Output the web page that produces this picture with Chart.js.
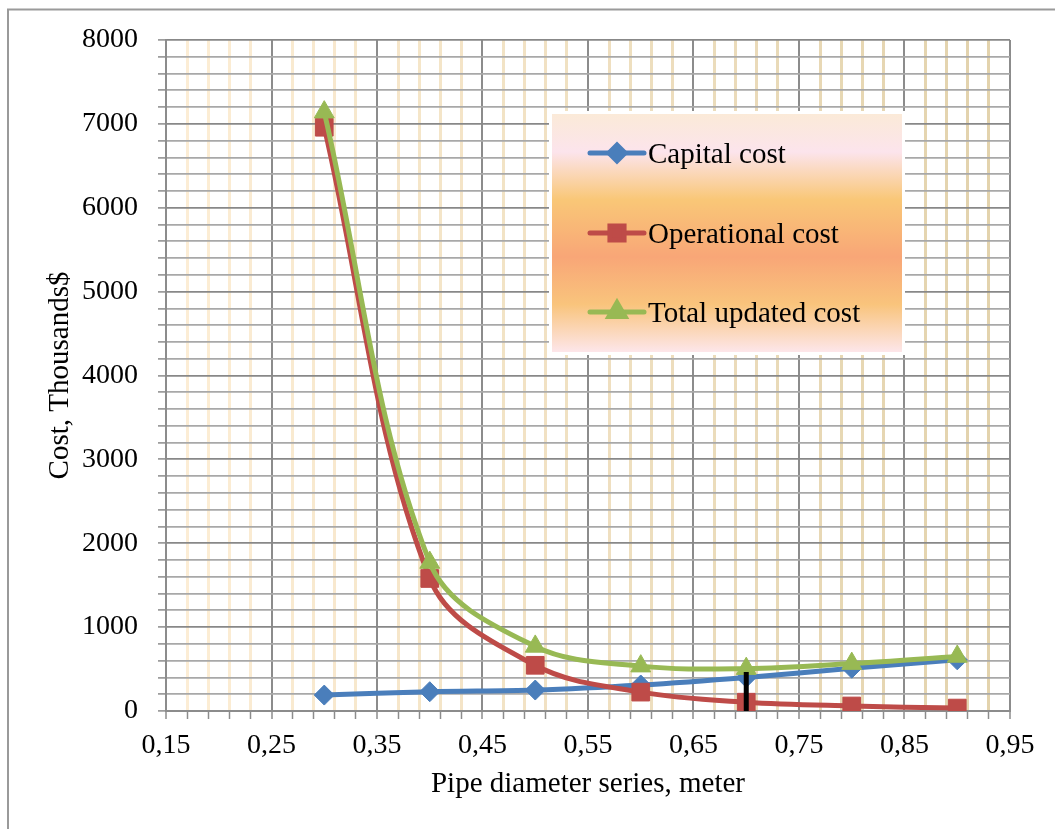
<!DOCTYPE html>
<html>
<head>
<meta charset="utf-8">
<script src="https://cdn.jsdelivr.net/npm/chart.js@4.4.0/dist/chart.umd.min.js"></script>
<style>
  html, body { margin: 0; padding: 0; background: #fff; }
  #wrap { position: relative; width: 1055px; height: 829px; }
</style>
</head>
<body>
<div id="wrap"><canvas id="costChart"></canvas></div>
<script>
// values
var diameters = [0.3, 0.4, 0.5, 0.6, 0.7, 0.8, 0.9];
var capitalCost = [190, 230, 250, 310, 400, 510, 610];
var operationalCost = [6960, 1580, 545, 225, 105, 60, 35];
var totalCost = [7140, 1770, 770, 535, 505, 565, 650];
var seriesNames = ['Capital cost', 'Operational cost', 'Total updated cost'];
var optimumX = 0.7;
var optimumTop = 465;
var xTickLabels = ['0,15', '0,25', '0,35', '0,45', '0,55', '0,65', '0,75', '0,85', '0,95'];
var yTickLabels = ['0', '1000', '2000', '3000', '4000', '5000', '6000', '7000', '8000'];

var FONT = 'Liberation Serif';
var colors = ['#4a7ebb', '#be4b48', '#98b954'];

function pts(ys) {
    return diameters.map(function (d, i) { return { x: d, y: ys[i] }; });
}

// minor vertical lines go from light cream on the left to tan on the right
function creamColor(v) {
    var t = Math.min(1, Math.max(0, (v - 0.15) / 0.8));
    var a = [253, 238, 214], b = [226, 210, 172];
    var c = a.map(function (x, k) { return Math.round(x + (b[k] - x) * t); });
    return 'rgb(' + c.join(',') + ')';
}

var framePlugin = {
    id: 'frame',
    beforeDraw: function (chart) {
        var ctx = chart.ctx;
        ctx.save();
        ctx.strokeStyle = '#9a9a9a';
        ctx.lineWidth = 2;
        ctx.beginPath();
        ctx.moveTo(8, 829);
        ctx.lineTo(8, 9.5);
        ctx.lineTo(1055, 9.5);
        ctx.stroke();
        ctx.restore();
    }
};

var legendBoxPlugin = {
    id: 'legendBox',
    afterDraw: function (chart) {
        var ctx = chart.ctx;
        var x0 = 552, y0 = 114, w = 350, h = 238;
        ctx.save();
        ctx.fillStyle = '#fff';
        ctx.fillRect(x0 - 3, y0 - 3, w + 6, h + 6);
        var g = ctx.createLinearGradient(0, y0, 0, y0 + h);
        g.addColorStop(0, '#fbead8');
        g.addColorStop(0.16, '#fce4ec');
        g.addColorStop(0.36, '#f9c777');
        g.addColorStop(0.6, '#f8a677');
        g.addColorStop(0.8, '#f9c47c');
        g.addColorStop(1, '#fde6ea');
        ctx.fillStyle = g;
        ctx.fillRect(x0, y0, w, h);

        var rows = [153, 233, 312];
        for (var i = 0; i < 3; i++) {
            var ds = chart.data.datasets[i];
            var y = rows[i];
            ctx.strokeStyle = ds.borderColor;
            ctx.lineWidth = 5;
            ctx.lineCap = 'round';
            ctx.beginPath();
            ctx.moveTo(590, y);
            ctx.lineTo(644, y);
            ctx.stroke();
            ctx.fillStyle = ds.borderColor;
            ctx.strokeStyle = ds.borderColor;
            Chart.helpers.drawPoint(ctx, {
                pointStyle: ds.pointStyle, radius: ds.pointRadius * 0.8,
                rotation: 0, borderWidth: 1
            }, 617, y);
            ctx.fillStyle = '#000';
            ctx.font = '29px "' + FONT + '"';
            ctx.textBaseline = 'alphabetic';
            ctx.textAlign = 'left';
            ctx.fillText(ds.label, 648, y + 10);
        }
        ctx.restore();
    }
};

var ctx = document.getElementById('costChart').getContext('2d');
var costChart = new Chart(ctx, {
    type: 'line',
    data: {
        datasets: [{
            label: seriesNames[0],
            data: pts(capitalCost),
            borderColor: colors[0],
            backgroundColor: colors[0],
            borderWidth: 5,
            pointStyle: 'rectRot',
            pointRadius: 10,
            pointBorderWidth: 1,
            tension: 0.35,
            order: 3
        }, {
            label: seriesNames[1],
            data: pts(operationalCost),
            borderColor: colors[1],
            backgroundColor: colors[1],
            borderWidth: 5,
            pointStyle: 'rect',
            pointRadius: 12.5,
            pointBorderWidth: 1,
            tension: 0.35,
            order: 2
        }, {
            label: seriesNames[2],
            data: pts(totalCost),
            borderColor: colors[2],
            backgroundColor: colors[2],
            borderWidth: 5,
            pointStyle: 'triangle',
            pointRadius: 11.5,
            pointBorderWidth: 1,
            tension: 0.35,
            order: 1
        }, {
            label: 'optimum',
            data: [{ x: optimumX, y: optimumTop }, { x: optimumX, y: 0 }],
            borderColor: '#000',
            borderWidth: 5,
            pointRadius: 0,
            tension: 0,
            order: 0
        }]
    },
    options: {
        responsive: true,
        maintainAspectRatio: false,
        animation: false,
        layout: { padding: { left: 30, right: 45, top: 40, bottom: 15 } },
        plugins: {
            legend: { display: false },
            tooltip: { enabled: false }
        },
        scales: {
            x: {
                type: 'linear',
                min: 0.15,
                max: 0.95,
                border: { color: '#8c8c8c', width: 2 },
                grid: {
                    color: function (c) {
                        return c.index % 5 === 0 ? '#8c8c8c' : creamColor(c.tick ? c.tick.value : 0.5);
                    },
                    lineWidth: function (c) { return c.index % 5 === 0 ? 2 : 3; },
                    tickColor: '#8c8c8c',
                    tickLength: 8,
                    tickWidth: 1.5
                },
                ticks: {
                    stepSize: 0.02,
                    autoSkip: false,
                    maxRotation: 0,
                    padding: 10,
                    color: '#000',
                    font: { family: FONT, size: 28, lineHeight: 1.2 },
                    callback: function (v, i) {
                        return i % 5 === 0 ? xTickLabels[i / 5] : '';
                    }
                },
                title: {
                    display: true,
                    text: 'Pipe diameter series, meter',
                    color: '#000',
                    font: { family: FONT, size: 29, lineHeight: 1.2 },
                    padding: { top: 0, bottom: 12 }
                },
                afterFit: function (s) { s.height = 829 - 711 - 15; }
            },
            y: {
                min: 0,
                max: 8000,
                border: { color: '#8c8c8c', width: 2 },
                grid: {
                    color: function (c) {
                        return c.tick && c.tick.value % 1000 === 0 ? '#888888' : '#a8a8a8';
                    },
                    lineWidth: 1.8,
                    tickColor: '#8c8c8c',
                    tickLength: 8,
                    tickWidth: 1.5
                },
                ticks: {
                    stepSize: 200,
                    autoSkip: false,
                    padding: 20,
                    color: '#000',
                    font: { family: FONT, size: 28, lineHeight: 1.2 },
                    callback: function (v) {
                        return v % 1000 === 0 ? yTickLabels[v / 1000] : '';
                    }
                },
                title: {
                    display: true,
                    text: 'Cost, Thousands$',
                    color: '#000',
                    font: { family: FONT, size: 29, lineHeight: 1.2 },
                    padding: { top: 13, bottom: 0 }
                },
                afterFit: function (s) { s.width = 166 - 30; }
            }
        }
    },
    plugins: [framePlugin, legendBoxPlugin]
});
</script>
</body>
</html>
